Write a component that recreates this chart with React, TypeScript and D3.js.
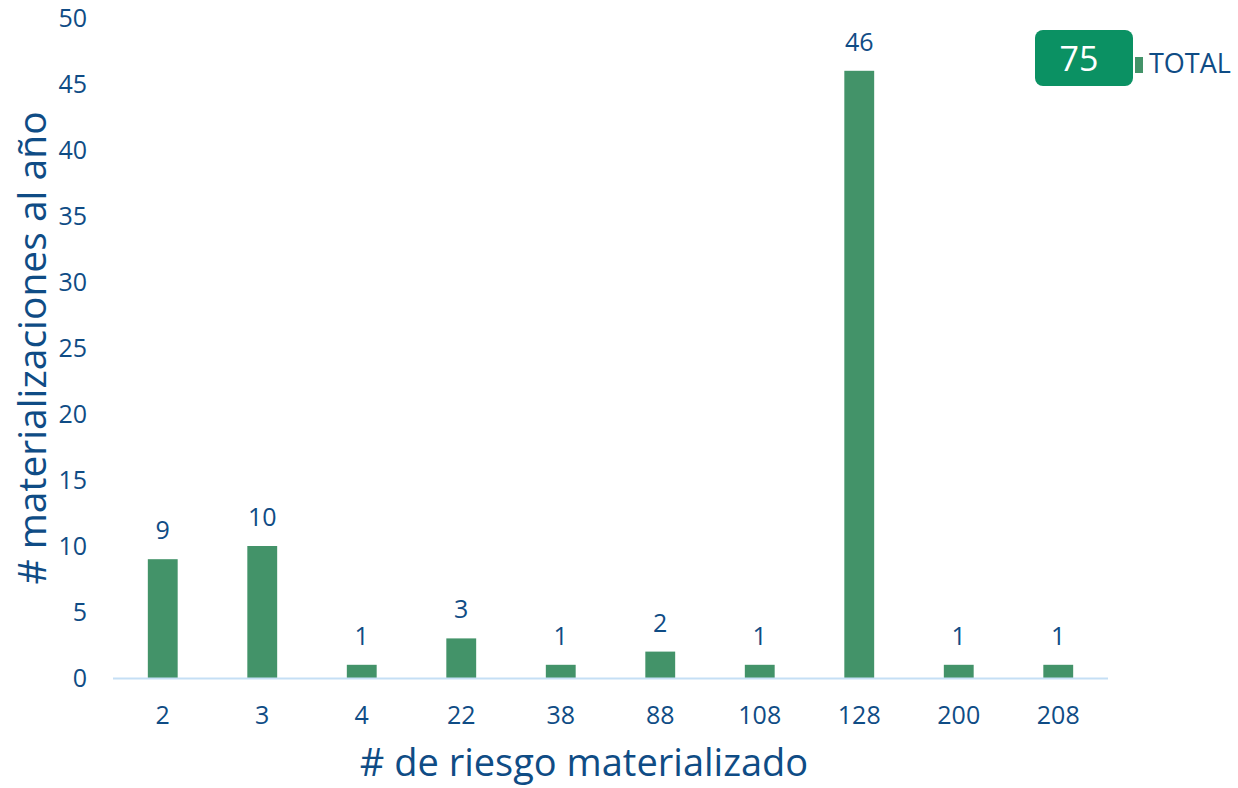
import React from "react";
import * as d3 from "d3";

const categories = ["2", "3", "4", "22", "38", "88", "108", "128", "200", "208"];
const values = [9, 10, 1, 3, 1, 2, 1, 46, 1, 1];
const yTicks = [0, 5, 10, 15, 20, 25, 30, 35, 40, 45, 50];
const totalValue = 75;
const legendLabel = "TOTAL";
const xTitle = "# de riesgo materializado";
const yTitle = "# materializaciones al año";

const W = 1238, H = 788;
const textColor = "#0f4c85";
const barColor = "#439369";
const font = "'Open Sans', sans-serif";

export default function App() {
  const x = d3.scaleBand<string>().domain(categories).range([113, 1108]).paddingInner(0.7).paddingOuter(0.35);
  const y = d3.scaleLinear().domain([0, 50]).range([678, 18]);
  return (
    <svg width={W} height={H} style={{ position: "absolute", left: 0, top: 0, background: "#fff" }}>
      {yTicks.map((t) => (
        <text key={t} x={87} y={y(t)} dy="0.35em" textAnchor="end" fontSize={25} fill={textColor} fontFamily={font}>{t}</text>
      ))}
      {categories.map((c, i) => (
        <g key={c}>
          <rect x={x(c)} y={y(values[i])} width={x.bandwidth()} height={y(0) - y(values[i])} fill={barColor} />
          <text x={(x(c) as number) + x.bandwidth() / 2} y={y(values[i]) - 20} textAnchor="middle" fontSize={25} fill={textColor} fontFamily={font}>{values[i]}</text>
          <text x={(x(c) as number) + x.bandwidth() / 2} y={724} textAnchor="middle" fontSize={25} fill={textColor} fontFamily={font}>{c}</text>
        </g>
      ))}
      <line x1={113} x2={1108} y1={y(0) + 0.5} y2={y(0) + 0.5} stroke="#c5dff5" strokeWidth={2} />
      <text x={584} y={776} textAnchor="middle" fontSize={38} fill={textColor} fontFamily={font}>{xTitle}</text>
      <text transform={`translate(46,${348}) rotate(-90)`} textAnchor="middle" fontSize={39} fill={textColor} fontFamily={font}>{yTitle}</text>
      <rect x={1135} y={57} width={8} height={16} fill={barColor} />
      <rect x={1035} y={30} width={98} height={56} rx={8} fill="#0b9163" />
      <text x={1079} y={59} dy="0.35em" textAnchor="middle" fontSize={34} fill="#fff" fontFamily={font}>{totalValue}</text>
      <text x={1149} y={64} dy="0.35em" fontSize={27} fill={textColor} fontFamily={font}>{legendLabel}</text>
    </svg>
  );
}
